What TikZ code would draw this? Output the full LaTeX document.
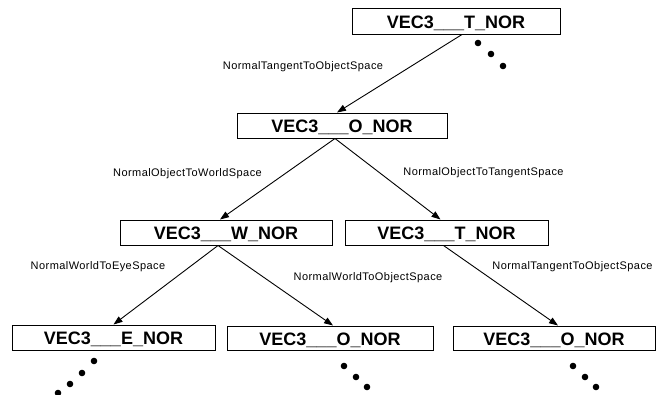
\documentclass[tikz,border=0pt]{standalone}
\usepackage{fontspec}
\setmainfont{Liberation Sans}
\newfontfamily\lblfont[LetterSpace=4]{Liberation Sans}
\usetikzlibrary{arrows.meta}
\begin{document}
\begin{tikzpicture}[x=1pt,y=-1pt,
  vbox/.style={draw,line width=1pt,inner sep=0pt,font=\fontsize{18}{18}\selectfont\bfseries,text height=14pt,text depth=0pt},
  lbl/.style={inner sep=0pt,font=\fontsize{11}{11}\lblfont},
  conn/.style={line width=0.9pt,-{Triangle[length=9pt,width=6.5pt]}},
  dotc/.style={fill=black}]
\useasboundingbox (0,0) rectangle (659,394);
\node[vbox,minimum width=208pt,minimum height=26pt] (T0) at (456,21) {VEC3\_\_\_T\_NOR};
\node[vbox,minimum width=210pt,minimum height=25pt] (O1) at (342,125.5) {VEC3\_\_\_O\_NOR};
\node[vbox,minimum width=212pt,minimum height=25pt] (W2) at (226,232.5) {VEC3\_\_\_W\_NOR};
\node[vbox,minimum width=203pt,minimum height=25pt] (T2) at (446.5,232.5) {VEC3\_\_\_T\_NOR};
\node[vbox,minimum width=203pt,minimum height=25pt] (E3) at (113.5,337.5) {VEC3\_\_\_E\_NOR};
\node[vbox,minimum width=206pt,minimum height=24pt] (O3m) at (330,338) {VEC3\_\_\_O\_NOR};
\node[vbox,minimum width=202pt,minimum height=24pt] (O3r) at (554,338) {VEC3\_\_\_O\_NOR};

\draw[conn] ([xshift=6pt]T0.south) -- ([xshift=-5pt]O1.north);
\draw[conn] ([xshift=-7pt]O1.south) -- ([xshift=-6pt]W2.north);
\draw[conn] ([xshift=-7pt]O1.south) -- ([xshift=-6pt]T2.north);
\draw[conn] ([xshift=-8pt]W2.south) -- (E3.north);
\draw[conn] ([xshift=-8pt]W2.south) -- ([xshift=3pt]O3m.north);
\draw[conn] ([xshift=-3pt]T2.south) -- ([xshift=4pt]O3r.north);

\node[lbl] (l1) at (303,67) {NormalTangentToObjectSpace};
\node[lbl] (l2) at (187.5,174) {NormalObjectToWorldSpace};
\node[lbl] (l3) at (483.5,173) {NormalObjectToTangentSpace};
\node[lbl] (l4) at (98,267) {NormalWorldToEyeSpace};
\node[lbl] (l5) at (368,278) {NormalWorldToObjectSpace};
\node[lbl] (l6) at (572.5,267) {NormalTangentToObjectSpace};

\foreach \p in {(478,43),(491,54),(503,66),(94,361),(82,373),(70,384),(58,393),(344,366),(356,377),(367,387),(573,366),(585,377),(596,387)}
  \fill[dotc] \p circle (3.3pt);
\end{tikzpicture}
\end{document}
